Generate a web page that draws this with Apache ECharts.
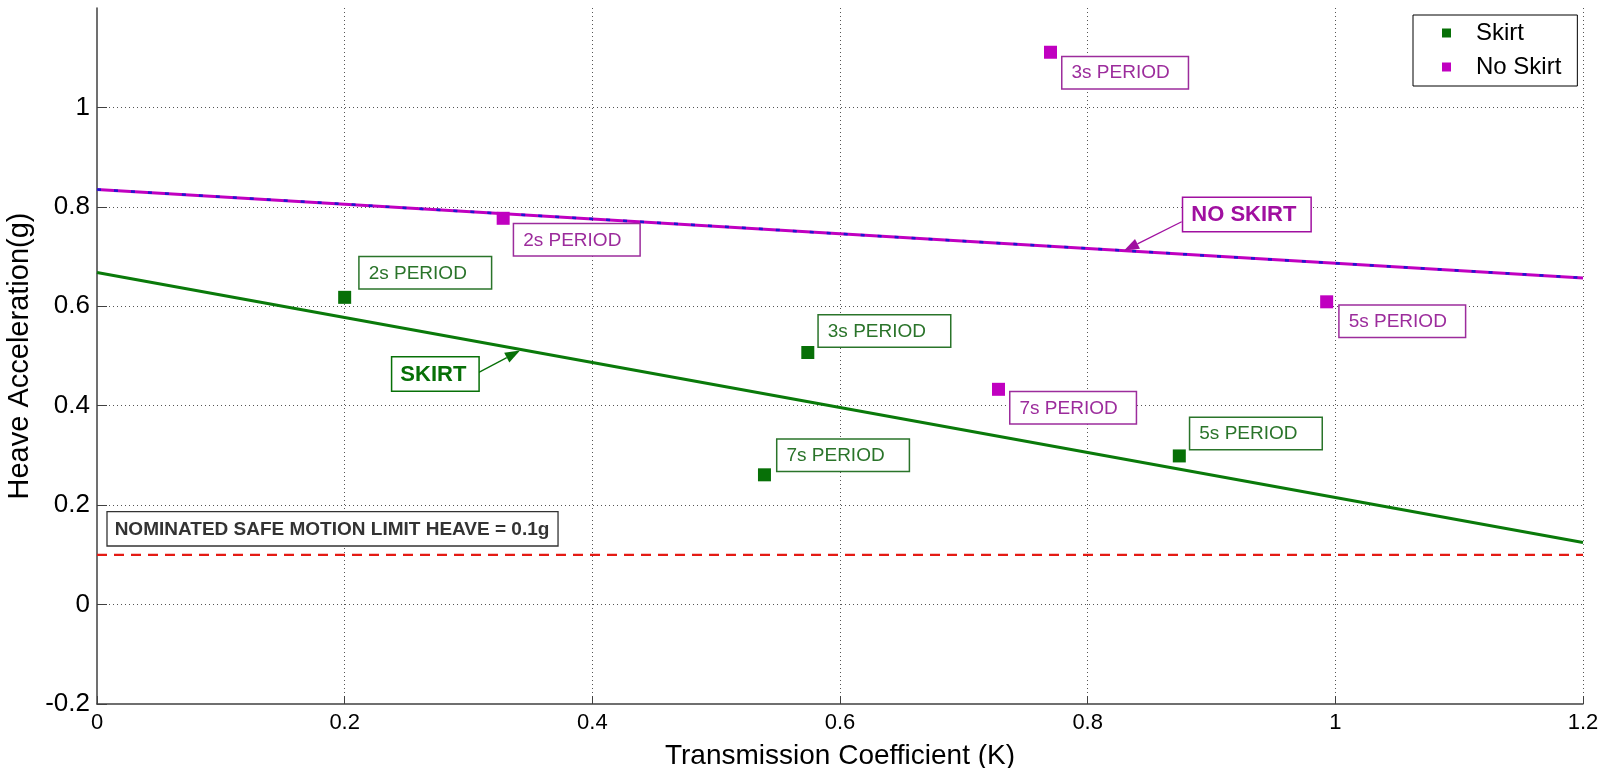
<!DOCTYPE html>
<html>
<head>
<meta charset="utf-8">
<script src="https://cdn.jsdelivr.net/npm/echarts@6/dist/echarts.min.js"></script>
<style>
html,body{margin:0;padding:0;background:#fff;}
#c{width:1615px;height:768px;}
</style>
</head>
<body>
<div id="c"></div>
<script>
// ---- data ----
const periods = ['2s PERIOD', '3s PERIOD', '5s PERIOD', '7s PERIOD'];
const skirtK = [0.200, 0.574, 0.874, 0.539];
const skirtHeave = [0.618, 0.507, 0.299, 0.261];
const noSkirtK = [0.328, 0.770, 0.993, 0.728];
const noSkirtHeave = [0.777, 1.111, 0.609, 0.433];
const fitK = [0, 1.2];
const skirtFit = [0.668, 0.125];
const noSkirtFit = [0.835, 0.657];
const safeLimit = [0.1, 0.1];
const xTickValues = [0, 0.2, 0.4, 0.6, 0.8, 1, 1.2];
const yTickValues = [-0.2, 0, 0.2, 0.4, 0.6, 0.8, 1];
const limitText = 'NOMINATED SAFE MOTION LIMIT HEAVE = 0.1g';

// ---- styling / layout (not data) ----
const FONT = 'Liberation Sans, Arial, sans-serif';
const GREEN = '#077007';
const GREEN_LINE = '#0a7a0a';
const GREEN_TXT = '#2a742a';
const MAG = '#c000c0';
const MAG_TXT = '#9c2c9c';
const SYM = 13;
// label box top-left offset from point centre (px)
const skirtLabelOff = [[15, -40], [11, -37], [11, -38], [13, -35]];
const noSkirtLabelOff = [[11, 6], [12, 5], [13, 4], [12, 3]];

const chart = echarts.init(document.getElementById('c'));

function pts(xs, ys) { return xs.map((x, i) => [x, ys[i]]); }

function labelled(xs, ys, offs, txtColor, padRight) {
  return xs.map((x, i) => ({
    value: [x, ys[i]],
    label: {
      show: true,
      formatter: periods[i],
      position: [offs[i][0] + SYM / 2, offs[i][1] + SYM / 2],
      align: 'left', verticalAlign: 'top',
      color: txtColor, fontSize: 19, fontFamily: FONT,
      backgroundColor: '#fff', borderColor: txtColor, borderWidth: 1.5,
      padding: [6, padRight, 5, 9], lineHeight: 20
    }
  }));
}

const option = {
  animation: false,
  backgroundColor: '#fff',
  grid: { left: 97, right: 32, top: 8, bottom: 64, containLabel: false, outerBoundsMode: 'none' },
  legend: {
    data: ['Skirt', 'No Skirt'],
    orient: 'vertical', left: 1413, top: 15,
    padding: [6, 16, 7, 29], itemGap: 10,
    itemWidth: 9, itemHeight: 9, icon: 'rect',
    backgroundColor: '#fff', borderColor: '#000', borderWidth: 1, borderRadius: 0,
    textStyle: { fontSize: 24, fontFamily: FONT, color: '#000', padding: [0, 0, 0, 20] }
  },
  xAxis: {
    type: 'value', min: 0, max: 1.2, interval: 0.2,
    name: 'Transmission Coefficient (K)', nameLocation: 'middle', nameGap: 38,
    nameTextStyle: { fontSize: 28, fontFamily: FONT, color: '#000' },
    axisLine: { onZero: false, lineStyle: { color: '#404040', width: 1.5 } },
    axisTick: { inside: true, length: 8, lineStyle: { color: '#404040', width: 1 } },
    axisLabel: { fontSize: 22, fontFamily: FONT, color: '#000', margin: 8,
      formatter: v => String(+v.toFixed(2)) },
    splitLine: { show: true, showMinLine: false, lineStyle: { type: [1, 3], color: '#555', width: 1 } }
  },
  yAxis: {
    type: 'value', min: -0.2, max: 1.2, interval: 0.2,
    name: 'Heave Acceleration(g)', nameLocation: 'middle', nameGap: 48,
    nameTextStyle: { fontSize: 29, fontFamily: FONT, color: '#000' },
    axisLine: { onZero: false, lineStyle: { color: '#404040', width: 1.5 } },
    axisTick: { inside: true, length: 10, lineStyle: { color: '#404040', width: 1 } },
    axisLabel: { fontSize: 26, fontFamily: FONT, color: '#000', margin: 7, showMaxLabel: false,
      formatter: v => String(+v.toFixed(2)) },
    splitLine: { show: true, showMinLine: false, showMaxLine: false, lineStyle: { type: [1, 3], color: '#555', width: 1 } }
  },
  series: [
    { name: 'limit', type: 'line', data: pts(fitK, safeLimit), showSymbol: false, silent: true,
      lineStyle: { color: '#e41b14', width: 2.2, type: [10, 7] }, z: 2 },
    { name: 'skirtFit', type: 'line', data: pts(fitK, skirtFit), showSymbol: false, silent: true,
      lineStyle: { color: GREEN_LINE, width: 3 }, z: 2 },
    { name: 'noSkirtFit', type: 'line', data: pts(fitK, noSkirtFit), showSymbol: false, silent: true,
      lineStyle: { color: MAG, width: 3 }, z: 2 },
    { name: 'noSkirtFit2', type: 'line', data: pts(fitK, noSkirtFit), showSymbol: false, silent: true,
      lineStyle: { color: '#1a1ad0', width: 2.5, type: [4, 13] }, z: 3 },
    { name: 'Skirt', type: 'scatter', symbol: 'rect', symbolSize: SYM,
      itemStyle: { color: GREEN, opacity: 1 }, z: 5,
      data: labelled(skirtK, skirtHeave, skirtLabelOff, GREEN_TXT, 24) },
    { name: 'No Skirt', type: 'scatter', symbol: 'rect', symbolSize: SYM,
      itemStyle: { color: MAG, opacity: 1 }, z: 5,
      data: labelled(noSkirtK, noSkirtHeave, noSkirtLabelOff, MAG_TXT, 18) }
  ]
};
chart.setOption(option);

// ---- annotations (callouts in data coordinates) ----
const callouts = [
  { text: 'SKIRT', color: GREEN, box: [0.2385, 0.497], tail: [0.3076, 0.466], tip: [0.3416, 0.511], padRight: 12 },
  { text: 'NO SKIRT', color: '#a010a0', box: [0.8772, 0.818], tail: [0.8759, 0.770], tip: [0.8294, 0.712], padRight: 14 }
];
const limitBox = [0.0086, 0.1855];

function px(p) { return chart.convertToPixel({ gridIndex: 0 }, p); }

const g = [];
callouts.forEach(c => {
  const b = px(c.box), t = px(c.tail), h = px(c.tip);
  const dx = h[0] - t[0], dy = h[1] - t[1];
  const L = Math.hypot(dx, dy), ux = dx / L, uy = dy / L;
  const hl = 15, hw = 5.5;
  const bx = h[0] - ux * hl, by = h[1] - uy * hl;
  g.push({ type: 'line', z: 20, shape: { x1: t[0], y1: t[1], x2: bx, y2: by },
    style: { stroke: c.color, lineWidth: 1.3 } });
  g.push({ type: 'polygon', z: 20, shape: { points: [h, [bx - uy * hw, by + ux * hw], [bx + uy * hw, by - ux * hw]] },
    style: { fill: c.color } });
  g.push({ type: 'text', z: 21, x: b[0], y: b[1],
    style: { text: c.text, font: 'bold 22px ' + FONT, fill: c.color, backgroundColor: '#fff',
      borderColor: c.color, borderWidth: 1.5, padding: [5, c.padRight, 4, 8], lineHeight: 24 } });
});
const lb = px(limitBox);
g.push({ type: 'text', z: 21, x: lb[0], y: lb[1],
  style: { text: limitText, font: 'bold 19px ' + FONT, fill: '#333', backgroundColor: '#fff',
    borderColor: '#333', borderWidth: 1.3, padding: [7, 8, 6, 7], lineHeight: 20 } });
chart.setOption({ graphic: g });
</script>
</body>
</html>
